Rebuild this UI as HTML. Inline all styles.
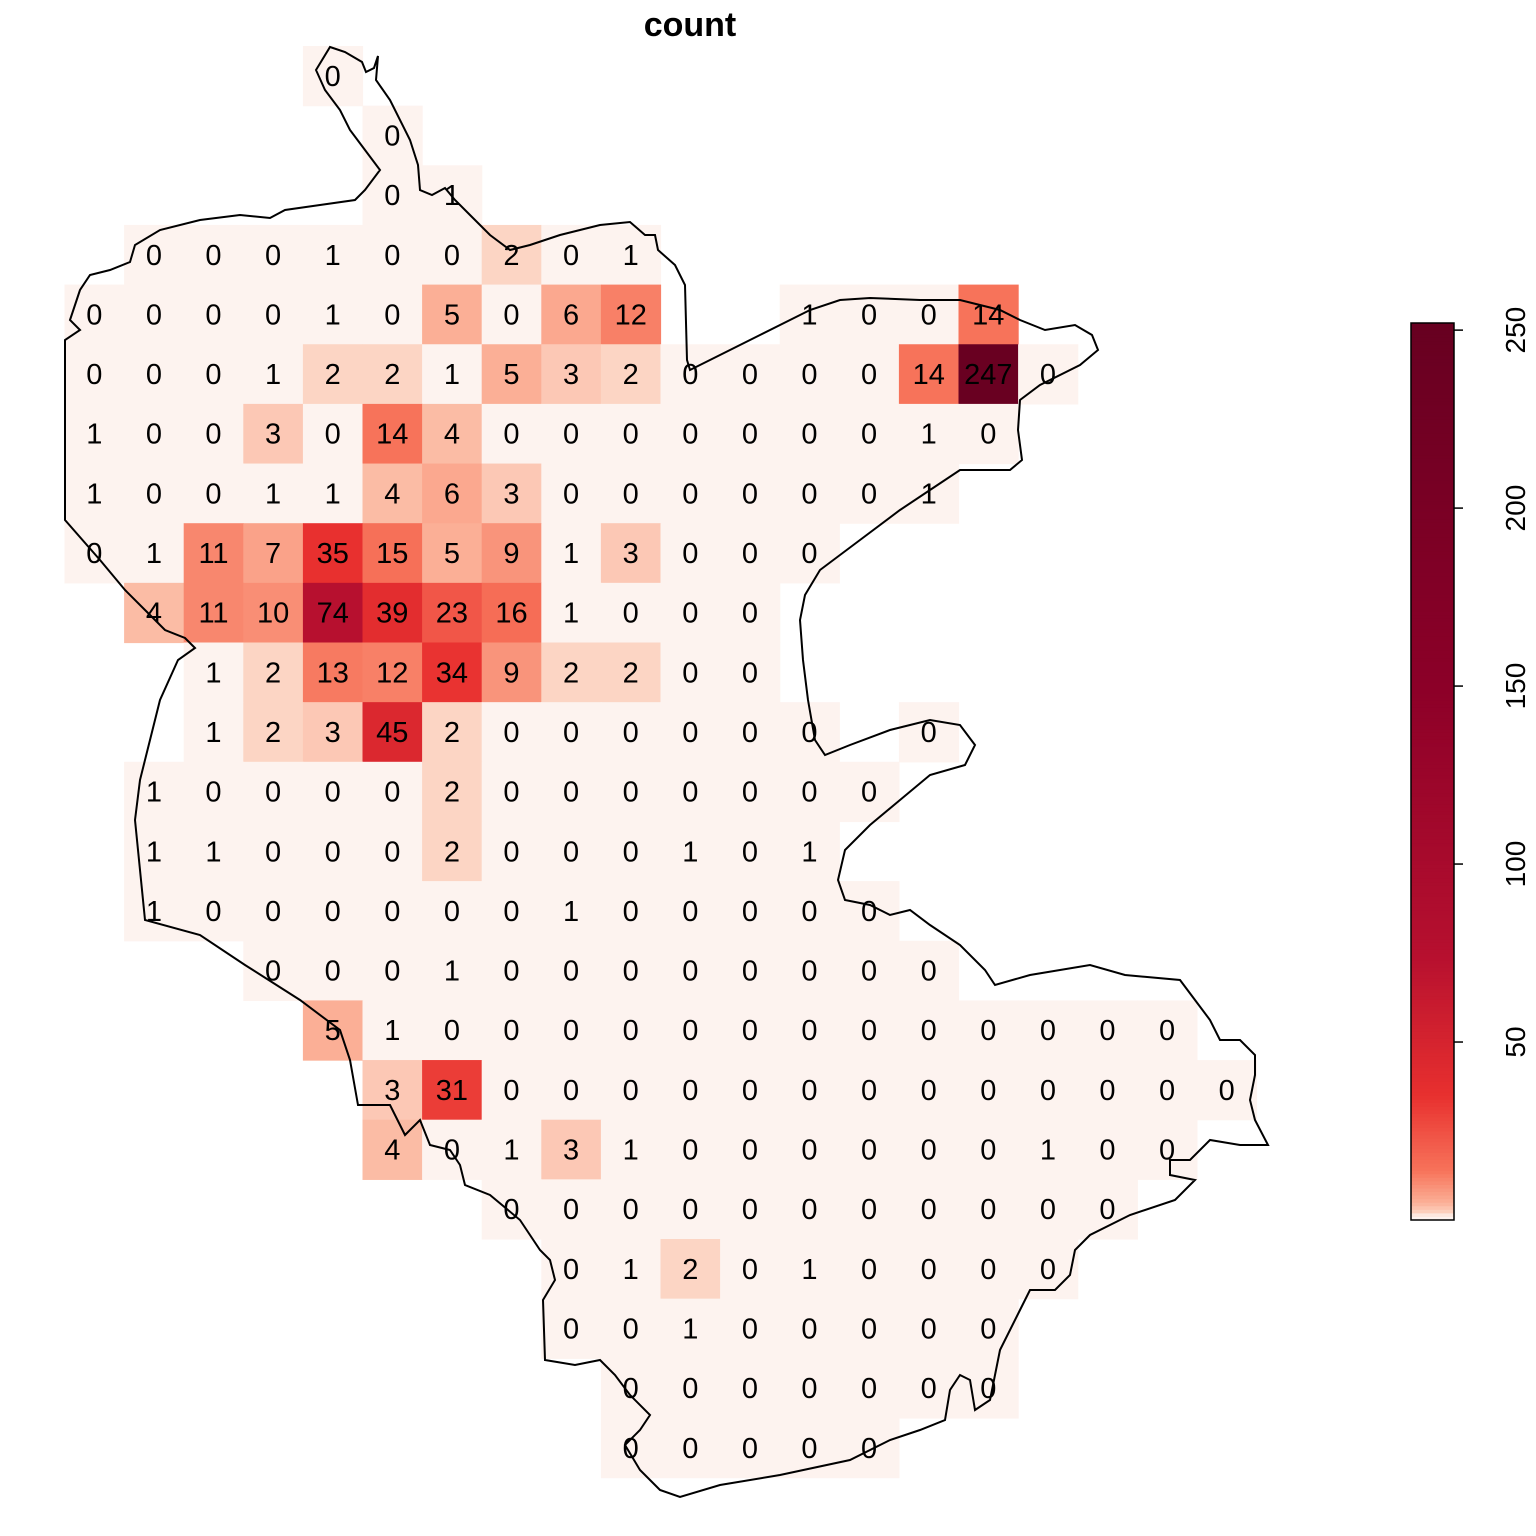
<!DOCTYPE html>
<html><head><meta charset="utf-8"><style>
html,body{margin:0;padding:0;background:#fff;}
svg{display:block;font-family:"Liberation Sans",sans-serif;}
</style></head><body>
<svg id="chart" width="1536" height="1536" viewBox="0 0 1536 1536">
<text x="690" y="36" text-anchor="middle" font-size="34" font-weight="bold">count</text>
<g id="cells"></g>
<path id="outline" fill="none" stroke="#000" stroke-width="2"/>
<g id="labels"></g>
<g id="legend"></g>
</svg>
<script>
// Rows of quadrat counts: starting column index and counts
const rowStarts = [[4],[5],[5],[1],[0,12],[0],[0],[0],[0],[1],[2],[2,14],[1],[1],[1],[3],[4],[5],[5],[7],[8],[8],[9],[9]];
const rowCounts = [
 [[0]],
 [[0]],
 [[0,1]],
 [[0,0,0,1,0,0,2,0,1]],
 [[0,0,0,0,1,0,5,0,6,12],[1,0,0,14]],
 [[0,0,0,1,2,2,1,5,3,2,0,0,0,0,14,247,0]],
 [[1,0,0,3,0,14,4,0,0,0,0,0,0,0,1,0]],
 [[1,0,0,1,1,4,6,3,0,0,0,0,0,0,1]],
 [[0,1,11,7,35,15,5,9,1,3,0,0,0]],
 [[4,11,10,74,39,23,16,1,0,0,0]],
 [[1,2,13,12,34,9,2,2,0,0]],
 [[1,2,3,45,2,0,0,0,0,0,0],[0]],
 [[1,0,0,0,0,2,0,0,0,0,0,0,0]],
 [[1,1,0,0,0,2,0,0,0,1,0,1]],
 [[1,0,0,0,0,0,0,1,0,0,0,0,0]],
 [[0,0,0,1,0,0,0,0,0,0,0,0]],
 [[5,1,0,0,0,0,0,0,0,0,0,0,0,0,0]],
 [[3,31,0,0,0,0,0,0,0,0,0,0,0,0,0]],
 [[4,0,1,3,1,0,0,0,0,0,0,1,0,0]],
 [[0,0,0,0,0,0,0,0,0,0,0]],
 [[0,1,2,0,1,0,0,0,0]],
 [[0,0,1,0,0,0,0,0]],
 [[0,0,0,0,0,0,0]],
 [[0,0,0,0,0]]
];
const legendTicks = [50,100,150,200,250];
const legendMax = 252;

const x0=64.5, y0=46, cw=59.6, ch=59.65;
const xs = c => x0 + c*cw;
const ys = r => y0 + r*ch;
const stops=[[0,[253,243,239]],[1.2,[253,243,239]],[2,[252,213,196]],[5,[251,175,150]],[14,[247,115,90]],[35,[232,48,47]],[74,[183,16,47]],[150,[140,0,40]],[250,[104,0,33]]];
function col(v){
  for(let i=1;i<stops.length;i++){
    if(v<=stops[i][0]){const a=stops[i-1],b=stops[i];const t=(v-a[0])/(b[0]-a[0]);
      return 'rgb('+a[1].map((c,k)=>Math.round(c+(b[1][k]-c)*t)).join(',')+')';}
  }
  return 'rgb(104,0,33)';
}
const NS='http://www.w3.org/2000/svg';
const cells=document.getElementById('cells'), labels=document.getElementById('labels');
rowCounts.forEach((segs,r)=>{
  segs.forEach((vals,s)=>{
    vals.forEach((v,i)=>{
      const c=rowStarts[r][s]+i;
      const rect=document.createElementNS(NS,'rect');
      rect.setAttribute('x',xs(c));rect.setAttribute('y',ys(r));
      rect.setAttribute('width',cw+0.6);rect.setAttribute('height',ch+0.6);
      rect.setAttribute('fill',col(v));
      
      
      cells.appendChild(rect);
      const t=document.createElementNS(NS,'text');
      t.setAttribute('x',xs(c)+cw/2);t.setAttribute('y',ys(r)+ch/2+10);
      t.setAttribute('text-anchor','middle');t.setAttribute('font-size','29');
      t.textContent=v;
      
      
      labels.appendChild(t);
    });
  });
});
const pts=[[316,70],[330,47],[345,52],[362,62],[366,72],[374,68],[378,56],[376,80],[390,100],[410,140],[418,165],[420,190],[432,195],[445,188],[455,200],[470,215],[490,235],[510,250],[530,245],[560,235],[600,225],[630,222],[645,235],[655,235],[658,250],[675,265],[685,285],[687,360],[690,370],[720,355],[760,335],[810,310],[840,300],[870,298],[920,300],[960,300],[1000,310],[1020,320],[1045,330],[1075,325],[1092,335],[1098,350],[1080,365],[1040,385],[1020,400],[1018,430],[1022,460],[1010,470],[960,470],[930,490],[900,510],[860,540],[820,570],[805,595],[800,620],[803,660],[808,700],[815,740],[825,755],[850,745],[890,730],[930,720],[960,725],[975,745],[965,765],[930,775],[900,800],[870,825],[845,850],[838,880],[845,900],[870,905],[890,915],[910,910],[930,925],[960,945],[985,970],[995,985],[1030,975],[1090,965],[1125,975],[1180,980],[1195,1000],[1210,1020],[1220,1040],[1240,1040],[1255,1055],[1255,1075],[1250,1100],[1255,1120],[1268,1145],[1240,1145],[1210,1140],[1190,1160],[1170,1160],[1170,1175],[1195,1180],[1175,1200],[1130,1215],[1090,1235],[1075,1250],[1070,1275],[1055,1290],[1030,1290],[1020,1310],[1000,1350],[990,1400],[975,1410],[970,1380],[960,1375],[950,1390],[945,1420],[920,1430],[890,1440],[850,1460],[780,1475],[720,1485],[680,1497],[660,1490],[640,1470],[625,1445],[640,1430],[650,1415],[630,1395],[615,1375],[600,1360],[575,1365],[545,1360],[543,1300],[555,1280],[550,1260],[540,1250],[520,1220],[490,1195],[465,1185],[460,1165],[450,1150],[430,1145],[420,1120],[405,1135],[390,1105],[370,1105],[358,1105],[350,1060],[340,1030],[300,1000],[245,965],[200,935],[145,920],[135,820],[140,780],[160,700],[178,660],[195,648],[185,638],[165,630],[145,610],[125,590],[100,560],[65,520],[65,340],[80,330],[70,320],[80,290],[90,275],[110,270],[130,262],[135,245],[160,230],[200,220],[240,215],[270,218],[285,210],[320,205],[355,200],[365,190],[380,170],[365,150],[350,130],[340,110],[325,90]];
document.getElementById('outline').setAttribute('d','M'+pts.map(p=>p.join(',')).join(' L')+' Z');
// legend
const lg=document.getElementById('legend');
const lx=1411,lw=43,lTop=323,lBot=1220;
const ly=v=>lBot-(v/legendMax)*(lBot-lTop);
for(let v=0;v<legendMax;v+=1){
  const r=document.createElementNS(NS,'rect');
  r.setAttribute('x',lx);r.setAttribute('y',ly(v+1));r.setAttribute('width',lw);r.setAttribute('height',ly(v)-ly(v+1)+0.5);
  r.setAttribute('fill',col(v+0.5));
  
  
  lg.appendChild(r);
}
const fr=document.createElementNS(NS,'rect');
fr.setAttribute('x',lx);fr.setAttribute('y',lTop);fr.setAttribute('width',lw);fr.setAttribute('height',lBot-lTop);
fr.setAttribute('fill','none');fr.setAttribute('stroke','#000');fr.setAttribute('stroke-width','1.5');


lg.appendChild(fr);
legendTicks.forEach(v=>{
  const y=ly(v);
  const l=document.createElementNS(NS,'line');
  l.setAttribute('x1',lx+lw);l.setAttribute('x2',lx+lw+9);l.setAttribute('y1',y);l.setAttribute('y2',y);
  l.setAttribute('stroke','#000');l.setAttribute('stroke-width','1.5');
  
  
  lg.appendChild(l);
  const t=document.createElementNS(NS,'text');
  t.setAttribute('x',1525);t.setAttribute('y',y);t.setAttribute('font-size','28');
  t.setAttribute('text-anchor','middle');
  t.setAttribute('transform','rotate(-90 1525 '+y+')');
  t.textContent=v;
  
  
  lg.appendChild(t);
});
</script>
</body></html>
